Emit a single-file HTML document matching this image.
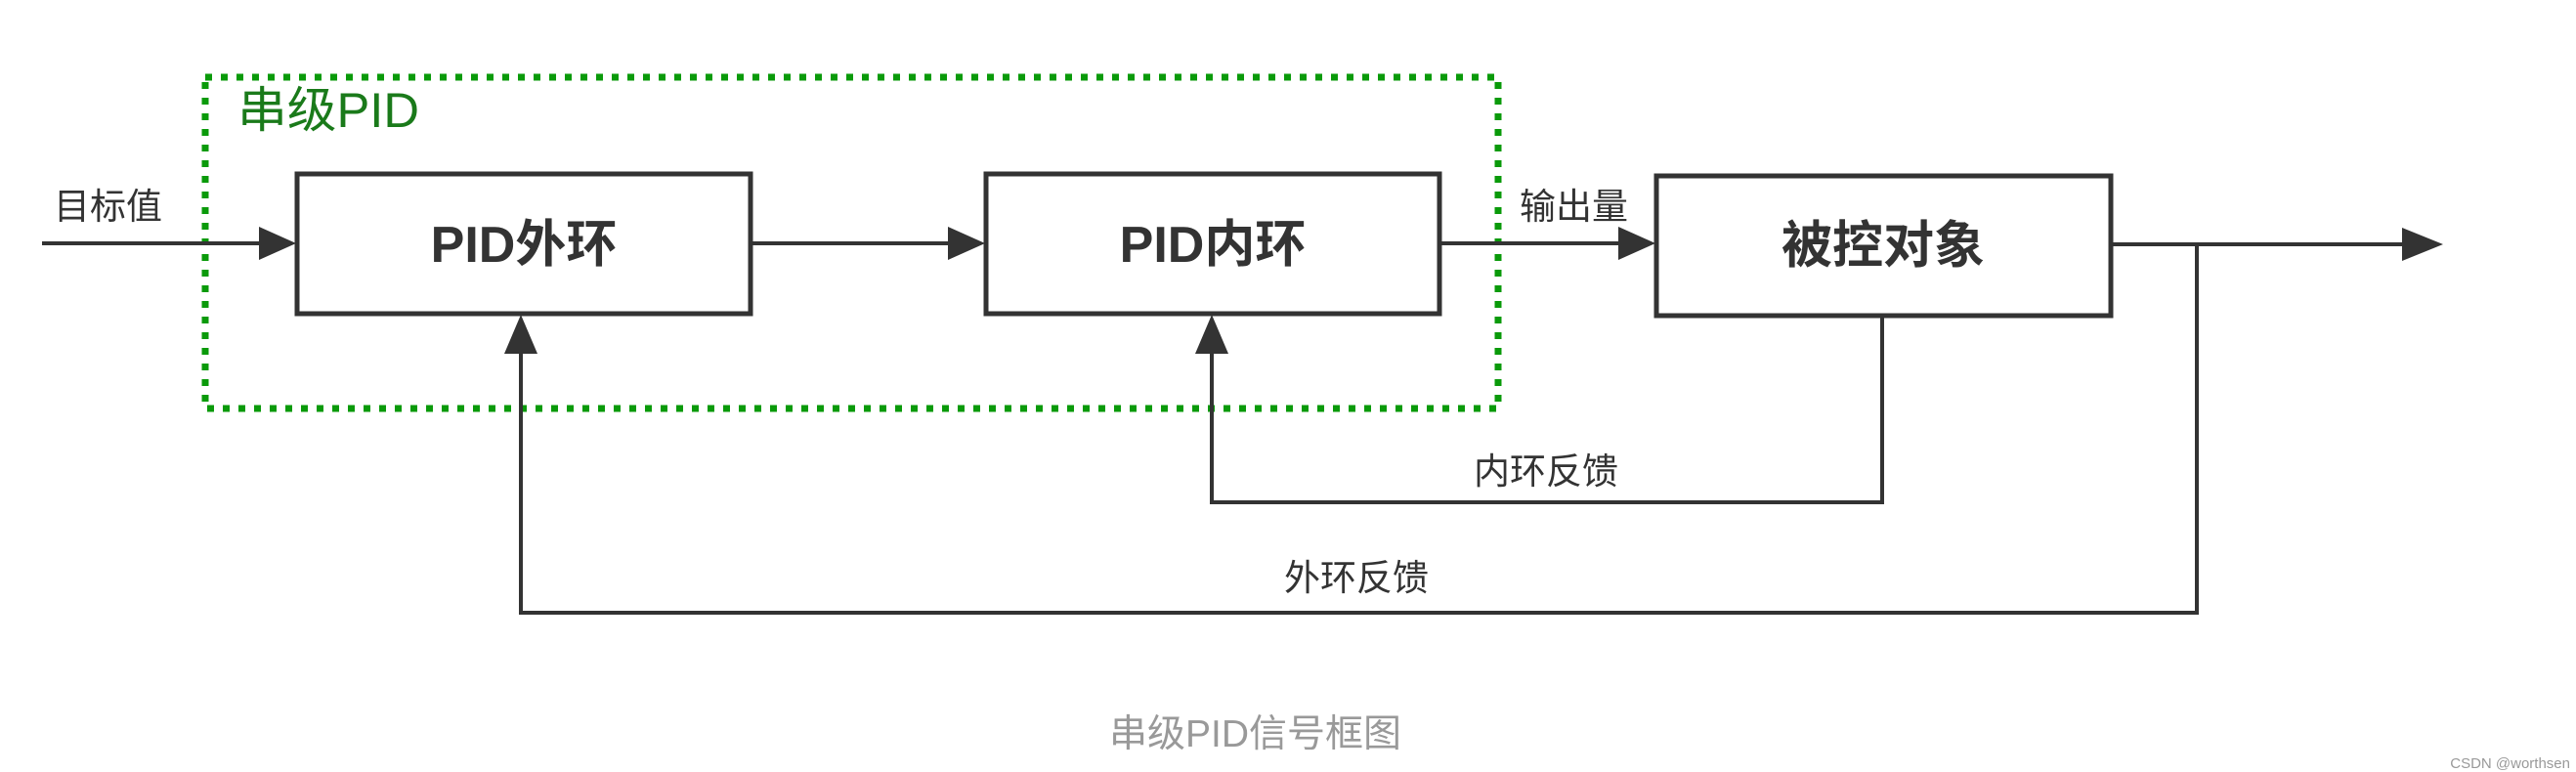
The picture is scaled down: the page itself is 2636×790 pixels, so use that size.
<!DOCTYPE html>
<html><head><meta charset="utf-8"><style>
html,body{margin:0;padding:0;background:#fff;}
svg{display:block}
text{font-family:"Liberation Sans","Noto Sans CJK SC",sans-serif;}
</style></head><body>
<svg width="2636" height="790" viewBox="0 0 2636 790" xmlns="http://www.w3.org/2000/svg">
<rect width="2636" height="790" fill="#fff"/>
<rect x="210" y="79" width="1323" height="339" fill="none" stroke="#0a9a0a" stroke-width="7" stroke-dasharray="7 9"/>
<text x="243" y="130" font-size="50" fill="#1a7a1a" textLength="186" lengthAdjust="spacingAndGlyphs">串级PID</text>
<g stroke="#333" fill="none">
<rect x="304" y="178" width="464" height="143" stroke-width="5"/>
<rect x="1009" y="178" width="464" height="143" stroke-width="5"/>
<rect x="1695" y="180" width="465" height="143" stroke-width="5"/>
<line x1="43" y1="249" x2="270" y2="249" stroke-width="4"/>
<line x1="770" y1="249" x2="975" y2="249" stroke-width="4"/>
<line x1="1475" y1="249" x2="1662" y2="249" stroke-width="4"/>
<line x1="2160" y1="250" x2="2460" y2="250" stroke-width="4"/>
<polyline points="2248,250 2248,627 533,627 533,355" stroke-width="4"/>
<polyline points="1926,323 1926,514 1240,514 1240,355" stroke-width="4"/>
</g>
<g fill="#333">
<polygon points="303,249 265,232 265,266"/>
<polygon points="1008,249 970,232 970,266"/>
<polygon points="1694,249 1656,232 1656,266"/>
<polygon points="2500,250 2458,233 2458,267"/>
<polygon points="533,322 516,362 550,362"/>
<polygon points="1240,322 1223,362 1257,362"/>
</g>
<g fill="#333" font-size="37">
<text x="55" y="224">目标值</text>
<text x="1555" y="224">输出量</text>
<text x="1508" y="495">内环反馈</text>
<text x="1314" y="604">外环反馈</text>
</g>
<g fill="#333" font-size="52" font-weight="bold" text-anchor="middle">
<text x="536" y="268">PID外环</text>
<text x="1241" y="268">PID内环</text>
<text x="1927" y="269">被控对象</text>
</g>
<text x="1135" y="764" font-size="39" fill="#999">串级PID信号框图</text>
<text x="2630" y="786" font-size="15" fill="#999" text-anchor="end">CSDN @worthsen</text>
</svg>
</body></html>
